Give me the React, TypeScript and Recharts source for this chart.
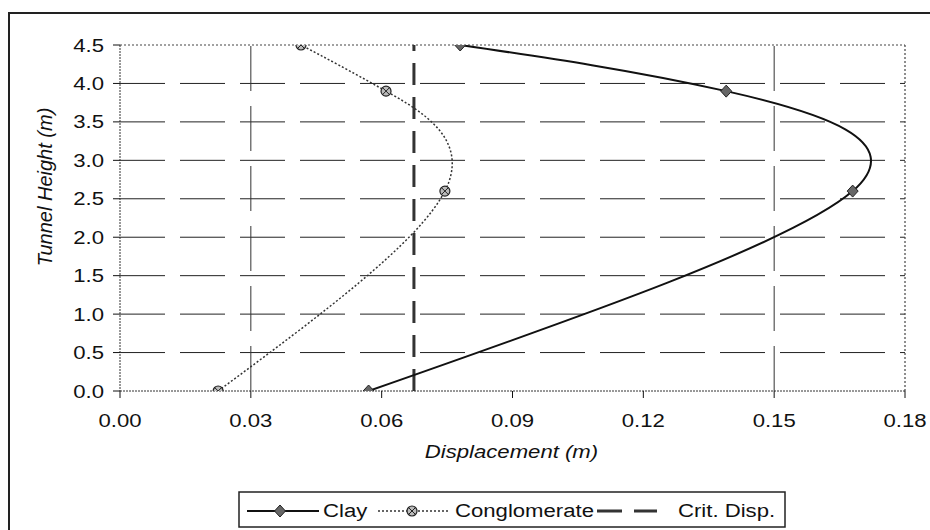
import React from 'react';
import { ScatterChart, Scatter, XAxis, YAxis, ReferenceLine } from 'recharts';

// ---- data ----
const heights = [0, 2.6, 3.9, 4.5];
const clayDisp = [0.057, 0.168, 0.139, 0.078];
const conglomerateDisp = [0.0225, 0.0745, 0.061, 0.0415];
const critDisp = 0.0674;
const xTicks = [0, 0.03, 0.06, 0.09, 0.12, 0.15, 0.18];
const yTicks = [0, 0.5, 1, 1.5, 2, 2.5, 3, 3.5, 4, 4.5];
const gridHeights = [0.5, 1, 1.5, 2, 2.5, 3, 3.5, 4];
const verticalGridX = [0.03, 0.15];
const seriesNames = ['Clay', 'Conglomerate', 'Crit. Disp.'];
const xTitle = 'Displacement (m)';
const yTitle = 'Tunnel Height (m)';

const clayData = heights.map((y, i) => ({ x: clayDisp[i], y }));
const conglomerateData = heights.map((y, i) => ({ x: conglomerateDisp[i], y }));

const FONT = "'Liberation Sans', Arial, sans-serif";
const SX = 1.23;

const XTick = (props: any) => {
  const { x, y, payload } = props;
  return (
    <g transform={`translate(${x},${y})`}>
      <text transform={`scale(${SX},1)`} x={0} y={0} dy={27} textAnchor="middle" fontSize={18} fill="#111" fontFamily={FONT}>
        {Number(payload.value).toFixed(2)}
      </text>
    </g>
  );
};

const YTick = (props: any) => {
  const { x, y, payload } = props;
  return (
    <g transform={`translate(${x},${y})`}>
      <text transform={`scale(${SX},1)`} x={0} y={0} dy={6.5} textAnchor="end" fontSize={18} fill="#111" fontFamily={FONT}>
        {Number(payload.value).toFixed(1)}
      </text>
    </g>
  );
};

const Diamond = (props: any) => {
  const { cx, cy } = props;
  if (cx == null || cy == null) return null;
  return (
    <polygon
      points={`${cx},${cy - 6} ${cx + 5.5},${cy} ${cx},${cy + 6} ${cx - 5.5},${cy}`}
      fill="#666"
      stroke="#222"
      strokeWidth={1}
    />
  );
};

const HatchBall = (props: any) => {
  const { cx, cy } = props;
  if (cx == null || cy == null) return null;
  return (
    <g>
      <circle cx={cx} cy={cy} r={5} fill="#bbb" stroke="#222" strokeWidth={1.2} />
      <line x1={cx - 3.5} y1={cy - 3.5} x2={cx + 3.5} y2={cy + 3.5} stroke="#222" strokeWidth={1} />
      <line x1={cx - 3.5} y1={cy + 3.5} x2={cx + 3.5} y2={cy - 3.5} stroke="#222" strokeWidth={1} />
    </g>
  );
};

const XTitle = (props: any) => {
  const vb = props.viewBox || {};
  const cx = (vb.x || 0) + (vb.width || 0) / 2 - 1;
  const y = (vb.y || 0) + 67;
  return (
    <g transform={`translate(${cx},${y})`}>
      <text transform={`scale(${SX},1)`} textAnchor="middle" fontSize={18} fontStyle="italic" fill="#111" fontFamily={FONT}>
        {xTitle}
      </text>
    </g>
  );
};

const YTitle = (props: any) => {
  const vb = props.viewBox || {};
  const x = (vb.x || 0) + 52;
  const y = (vb.y || 0) + 142;
  return (
    <text transform={`translate(${x},${y}) rotate(-90)`} textAnchor="middle" fontSize={20} fontStyle="italic" fill="#111" fontFamily={FONT}>
      {yTitle}
    </text>
  );
};

const Legend = () => (
  <svg
    width={548}
    height={37}
    style={{ position: 'absolute', left: 238, top: 491, overflow: 'visible' }}
  >
    <rect x={1} y={1} width={546} height={35} fill="#fff" stroke="#222" strokeWidth={1.5} />
    <line x1={9} y1={20} x2={81} y2={20} stroke="#111" strokeWidth={2} />
    <Diamond cx={42} cy={20} />
    <g transform="translate(85,26)">
      <text transform={`scale(${SX},1)`} fontSize={18} fill="#111" fontFamily={FONT}>{seriesNames[0]}</text>
    </g>
    <line x1={140} y1={20} x2={212} y2={20} stroke="#333" strokeWidth={1.5} strokeDasharray="2 2" />
    <HatchBall cx={174} cy={20} />
    <g transform="translate(217,26)">
      <text transform={`scale(${SX},1)`} fontSize={18} fill="#111" fontFamily={FONT}>{seriesNames[1]}</text>
    </g>
    <line x1={359} y1={20} x2={419} y2={20} stroke="#333" strokeWidth={3} strokeDasharray="25 12" />
    <g transform="translate(440,26)">
      <text transform={`scale(${SX},1)`} fontSize={18} fill="#111" fontFamily={FONT}>{seriesNames[2]}</text>
    </g>
  </svg>
);

export default function App() {
  return (
    <div style={{ position: 'absolute', left: 0, top: 0, width: 930, height: 530, overflow: 'hidden', background: '#fff' }}>
      <div style={{ position: 'absolute', left: 8, top: 12, width: 1000, height: 600, border: '2px solid #222' }} />
      <div style={{ position: 'absolute', left: 0, top: 0 }}>
        <ScatterChart width={930} height={530} margin={{ top: 45, right: 25, bottom: 99, left: 0 }}>
          <XAxis
            type="number"
            dataKey="x"
            domain={[0, 0.18]}
            ticks={xTicks}
            tick={<XTick />}
            tickSize={7}
            tickLine={{ stroke: '#111' }}
            axisLine={{ stroke: '#333', strokeDasharray: '2 1' }}
            height={40}
            allowDataOverflow
            label={<XTitle />}
          />
          <YAxis
            type="number"
            dataKey="y"
            domain={[0, 4.5]}
            ticks={yTicks}
            tick={<YTick />}
            tickSize={7}
            tickMargin={9}
            tickLine={{ stroke: '#111' }}
            axisLine={{ stroke: '#333', strokeDasharray: '2 1' }}
            width={120}
            allowDataOverflow
            label={<YTitle />}
          />
          {gridHeights.map((h) => (
            <ReferenceLine key={'h' + h} y={h} stroke="#222" strokeWidth={1} strokeDasharray="45 15" />
          ))}
          {verticalGridX.map((v) => (
            <ReferenceLine key={'v' + v} x={v} stroke="#333" strokeWidth={1} strokeDasharray="45 15" />
          ))}
          <ReferenceLine y={4.5} stroke="#444" strokeWidth={1.2} strokeDasharray="2 2" />
          <ReferenceLine x={0.18} stroke="#444" strokeWidth={1.2} strokeDasharray="2 2" />
          <ReferenceLine
            segment={[{ x: critDisp, y: 0 }, { x: critDisp, y: 4.5 }]}
            stroke="#333"
            strokeWidth={3}
            strokeDasharray="22 12"
          />
          <Scatter
            name={seriesNames[0]}
            data={clayData}
            line={{ stroke: '#111', strokeWidth: 2 }}
            lineJointType="natural"
            shape={<Diamond />}
            isAnimationActive={false}
          />
          <Scatter
            name={seriesNames[1]}
            data={conglomerateData}
            line={{ stroke: '#333', strokeWidth: 1.5, strokeDasharray: '2 2' }}
            lineJointType="natural"
            shape={<HatchBall />}
            isAnimationActive={false}
          />
        </ScatterChart>
      </div>
      <Legend />
    </div>
  );
}
